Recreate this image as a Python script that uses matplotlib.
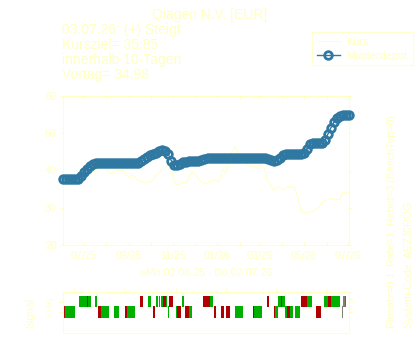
import numpy as np
import pandas as pd
import matplotlib
matplotlib.use('Agg')
import matplotlib.pyplot as plt
import matplotlib.dates as mdates

plt.rcParams['font.family'] = ['Liberation Sans', 'DejaVu Sans']

TXT = '#FFFFC0'
BLUE = '#2F78A2'
COLS = {'g': '#00B000', 'r': '#B00000', 'k': '#808070'}

start, end = '2025-06-02', '2026-07-02'

kurs = [37.5, 37.5, 37.6, 37.5, 37.6, 37.8,
        38.5, 39.2, 39.6, 39.5, 39.4,
        39.8, 40.8, 41.0, 40.6, 39.8, 39.3, 39.4, 40.0, 40.1, 40.0,
        38.6, 38.3, 38.8, 38.2, 37.3, 37.0, 36.6, 36.8, 37.0, 37.6,
        38.8, 39.5, 40.2, 41.0, 41.4, 40.1, 36.8, 36.2, 36.4, 37.0,
        36.7, 38.5, 39.6, 38.8, 37.8, 37.0, 36.6, 36.7, 37.2, 37.5,
        37.2, 37.0, 40.4, 39.3, 41.3, 45.0, 46.4, 45.3, 43.9, 42.8,
        41.5, 41.2, 41.0, 41.0, 41.3, 41.4, 40.2, 37.0, 36.1, 34.6,
        35.4, 35.6, 34.8, 35.3, 35.7, 35.6, 35.4, 33.0, 29.3, 28.5,
        28.7, 28.9, 29.2, 29.6, 30.2, 31.3, 31.9, 32.2, 32.5, 32.4,
        32.2, 32.1, 34.3, 33.8, 34.2]

musterdepot = [37.7, 37.7, 37.7, 37.7, 37.7, 37.8,
               38.5, 39.5, 40.4, 41.2, 41.8,
               42.0, 42.0, 42.0, 42.0, 42.0, 42.0, 42.0, 42.0, 42.0, 42.0,
               42.0, 42.0, 42.0, 42.0, 42.0,
               42.5, 43.0, 43.6, 44.2, 44.5, 44.7, 45.2, 45.6, 45.3, 44.3,
               42.6, 41.6, 41.6, 41.7, 42.2, 42.4, 42.5, 42.5, 42.5, 42.6,
               42.8, 43.1, 43.4,
               43.4, 43.4, 43.4, 43.4, 43.4, 43.4, 43.4, 43.4, 43.4, 43.4,
               43.4, 43.4, 43.4, 43.4, 43.4, 43.4, 43.4, 43.4, 43.4,
               43.2, 42.7, 42.6, 42.7, 43.4, 44.1,
               44.3, 44.3, 44.3, 44.3, 44.3, 44.3,
               44.6, 45.8, 47.0, 47.4, 47.4, 47.4, 47.5, 48.2, 49.8, 51.5,
               53.0, 54.0, 54.5, 54.8, 54.9, 55.0]

# signal segments, (+) row
plus_start = ['2025-06-24', '2025-07-05', '2025-07-06', '2025-07-16', '2025-09-16',
              '2025-09-20', '2025-09-27', '2025-10-08', '2025-10-12', '2025-10-16',
              '2025-10-18', '2025-10-22', '2025-10-27', '2025-11-13', '2025-12-13',
              '2025-12-22', '2026-03-11', '2026-03-26', '2026-03-30', '2026-04-01',
              '2026-04-27', '2026-05-03', '2026-05-04', '2026-05-05', '2026-05-29',
              '2026-06-03', '2026-06-07', '2026-06-24', '2026-06-27']
plus_end = ['2025-07-05', '2025-07-06', '2025-07-10', '2025-07-19', '2025-09-20',
            '2025-09-21', '2025-10-02', '2025-10-11', '2025-10-14', '2025-10-18',
            '2025-10-22', '2025-10-23', '2025-11-01', '2025-11-16', '2025-12-22',
            '2025-12-26', '2026-03-14', '2026-03-30', '2026-04-01', '2026-04-04',
            '2026-05-03', '2026-05-04', '2026-05-05', '2026-05-12', '2026-06-03',
            '2026-06-07', '2026-06-19', '2026-06-26', '2026-06-28']
plus_col = ['g', 'r', 'g', 'g', 'r', 'g', 'g', 'g', 'g', 'g', 'r', 'g', 'r', 'g', 'r',
            'g', 'r', 'g', 'r', 'g', 'r', 'g', 'r', 'g', 'g', 'r', 'g', 'k', 'g']

# signal segments, (-) row
minus_start = ['2025-06-03', '2025-06-05', '2025-07-21', '2025-07-24', '2025-08-11',
               '2025-08-27', '2025-08-29', '2025-10-04', '2025-10-25', '2025-11-05',
               '2025-11-06', '2025-11-17', '2025-11-23', '2025-12-27', '2026-01-06',
               '2026-01-13', '2026-01-15', '2026-01-26', '2026-02-20', '2026-02-21',
               '2026-03-21', '2026-03-22', '2026-04-05', '2026-04-08', '2026-04-11',
               '2026-04-19', '2026-05-17', '2026-06-23']
minus_end = ['2025-06-05', '2025-06-19', '2025-07-24', '2025-08-05', '2025-08-19',
             '2025-08-29', '2025-09-10', '2025-10-07', '2025-10-26', '2025-11-06',
             '2025-11-12', '2025-11-23', '2025-11-27', '2025-12-31', '2026-01-11',
             '2026-01-14', '2026-01-18', '2026-02-06', '2026-02-21', '2026-03-04',
             '2026-03-22', '2026-03-26', '2026-04-08', '2026-04-11', '2026-04-16',
             '2026-04-26', '2026-05-24', '2026-06-24']
minus_col = ['r', 'g', 'r', 'g', 'g', 'r', 'g', 'r', 'g', 'g', 'r', 'r', 'g', 'r',
             'r', 'r', 'r', 'g', 'r', 'g', 'r', 'g', 'g', 'r', 'g', 'g', 'r', 'k']

signal_ticks = ['2025-06-17', '2025-08-25', '2025-11-05', '2026-01-13',
                '2026-03-23', '2026-05-31']

dates = pd.date_range(start, end, periods=len(kurs))

fig = plt.figure(figsize=(4.2, 3.5), dpi=100)
ax = fig.add_axes([63 / 420, 1 - 245 / 350, 286 / 420, 149 / 350])
ax2 = fig.add_axes([63 / 420, 1 - 333 / 350, 286 / 420, 41 / 350])

# main chart
ax.plot(dates, kurs, color=TXT, lw=0.7, label='Kurs')
ax.plot(dates, musterdepot, color=BLUE, lw=1.0, marker='o', ms=5.5, mew=2.0,
        mfc='none', mec=BLUE, label='Musterdepot', clip_on=False, zorder=3)
ax.set_xlim(pd.Timestamp(start), pd.Timestamp(end))
ax.set_ylim(20, 60)
ax.set_yticks([20, 30, 40, 50, 60])
ax.xaxis.set_major_locator(mdates.MonthLocator(bymonth=[1, 3, 5, 7, 9, 11]))
ax.xaxis.set_minor_locator(mdates.MonthLocator())
ax.xaxis.set_major_formatter(mdates.DateFormatter('%m/%y'))
ax.tick_params(axis='x', which='both', direction='in', top=True, length=2.5,
               width=0.7, color=TXT, labelcolor=TXT, labelsize=7.7, pad=4)
ax.tick_params(axis='y', direction='out', length=2.0, width=0.7, color=TXT,
               labelcolor=TXT, labelsize=7.7, pad=2.5)
ax.tick_params(axis='y', which='both', right=True)
for sp in ax.spines.values():
    sp.set_color(TXT)
    sp.set_linewidth(0.8)

# signal panel
for s, e, c in zip(plus_start, plus_end, plus_col):
    s0, e0 = mdates.datestr2num(s), mdates.datestr2num(e)
    ax2.barh(1.05, e0 - s0, left=s0, height=1.1, color=COLS[c], linewidth=0)
for s, e, c in zip(minus_start, minus_end, minus_col):
    s0, e0 = mdates.datestr2num(s), mdates.datestr2num(e)
    ax2.barh(0.0, e0 - s0, left=s0, height=1.2, color=COLS[c], linewidth=0)
ax2.set_xlim(pd.Timestamp(start), pd.Timestamp(end))
ax2.set_ylim(-2.1, 2.0)
ax2.set_yticks([1, 0])
ax2.set_yticklabels(['(+)', '(-)'], rotation=90, va='center')
ax2.set_xticks([mdates.datestr2num(t) for t in signal_ticks])
ax2.xaxis.tick_top()
ax2.tick_params(axis='x', direction='out', length=3, width=0.7, color=TXT,
                labeltop=False, labelbottom=False)
ax2.tick_params(axis='y', direction='out', length=3, width=0.7, color=TXT,
                labelcolor=TXT, labelsize=6, pad=4, right=True)
for sp in ax2.spines.values():
    sp.set_color(TXT)
    sp.set_linewidth(0.8)

# texts
fig.text(209.5 / 420, 1 - 15 / 350, 'Qiagen N.V. [EUR]', color=TXT, fontsize=10,
         ha='center', va='center')
info = ['03.07.26: (+) Steigt', 'Kursziel= 35.85', 'innerhalb 10-Tagen',
        'Vortag= 34.98']
for k, line in enumerate(info):
    fig.text(62.5 / 420, 1 - (30 + 15 * k) / 350, line, color=TXT, fontsize=10,
             ha='left', va='center')
fig.text(206 / 420, 1 - 272.5 / 350, '»Mo,02.06.25 - Do,02.07.26', color=TXT,
         fontsize=7.7, ha='center', va='center')
fig.text(30.5 / 420, 1 - 313 / 350, 'Signal', color=TXT, fontsize=7.7,
         rotation=90, ha='center', va='center')
fig.text(392 / 420, 1 - 328 / 350, 'Einsatz=0.1, Rate=1, Hebel=3 (BenchTyp=0)',
         color=TXT, fontsize=7.7, rotation=90, ha='center', va='bottom')
fig.text(409 / 420, 1 - 328 / 350, 'System-Code: AEZJ0ROG', color=TXT,
         fontsize=7.7, rotation=90, ha='center', va='bottom')

leg = fig.legend(loc='upper right', bbox_to_anchor=(412.7 / 420, 1 - 32.3 / 350),
                 fontsize=7.9, frameon=True, fancybox=False, borderaxespad=0,
                 handlelength=2.1, handletextpad=0.6, labelspacing=0.3,
                 borderpad=0.45, labelcolor=TXT)
leg.get_frame().set_edgecolor(TXT)
leg.get_frame().set_linewidth(0.8)

plt.savefig('out.png', dpi=100)
